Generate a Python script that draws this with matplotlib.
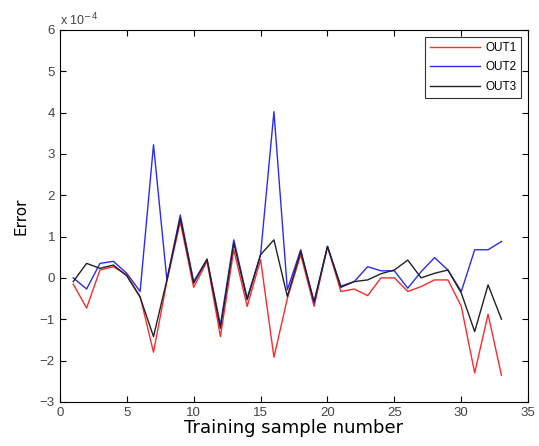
import matplotlib
matplotlib.use('agg')
import matplotlib.pyplot as plt

# error values, in units of 1e-4
samples = list(range(1, 34))
out1 = [-0.15, -0.73, 0.19, 0.27, 0.07, -0.45, -1.8, -0.09, 1.36, -0.23,
        0.40, -1.42, 0.68, -0.69, 0.44, -1.92, -0.50, 0.56, -0.69, 0.76,
        -0.33, -0.27, -0.43, 0.0, 0.0, -0.33, -0.21, -0.05, -0.05, -0.69,
        -2.3, -0.88, -2.36]
out2 = [0.0, -0.27, 0.35, 0.40, 0.11, -0.33, 3.22, -0.05, 1.52, -0.09,
        0.45, -1.14, 0.92, -0.49, 0.56, 4.02, -0.29, 0.68, -0.62, 0.76,
        -0.20, -0.09, 0.27, 0.17, 0.17, -0.25, 0.15, 0.49, 0.19, -0.33,
        0.68, 0.68, 0.88]
out3 = [-0.09, 0.35, 0.23, 0.31, 0.05, -0.47, -1.42, -0.05, 1.44, -0.13,
        0.45, -1.22, 0.84, -0.53, 0.56, 0.92, -0.45, 0.64, -0.57, 0.76,
        -0.23, -0.09, -0.05, 0.10, 0.19, 0.43, 0.0, 0.11, 0.19, -0.37,
        -1.3, -0.17, -1.0]

fig = plt.figure(figsize=(5.39, 4.46), dpi=100)
ax = fig.add_axes([0.111, 0.099, 0.869, 0.834])

ax.plot(samples, out1, color='#ff2a2a', lw=1.0, label='OUT1')
ax.plot(samples, out2, color='#2a2aff', lw=1.0, label='OUT2')
ax.plot(samples, out3, color='#222222', lw=1.0, label='OUT3')

ax.set_xlim(0, 35)
ax.set_ylim(-3, 6)
ax.set_xticks(range(0, 36, 5))
ax.set_yticks(range(-3, 7))
ax.tick_params(direction='in', top=True, right=True, labelsize=9.5,
               labelcolor='#444444', length=4)
for lbl in ax.get_xticklabels() + ax.get_yticklabels():
    lbl.set_family('Liberation Sans')
for s in ax.spines.values():
    s.set_linewidth(0.8)

ax.text(0.0, 1.005, r'x 10$^{-4}$', transform=ax.transAxes, fontsize=9,
        color='#444444', ha='left', va='bottom', family='Liberation Sans')
ax.set_xlabel('Training sample number', fontsize=13, labelpad=0)
ax.set_ylabel('Error', fontsize=11, labelpad=8)

leg = ax.legend(loc='upper right', fontsize=8.5, handlelength=4.3,
                fancybox=False, edgecolor='#333333', framealpha=1,
                borderaxespad=0.6, labelspacing=0.65, handletextpad=0.4,
                prop={'family': 'Liberation Sans', 'size': 8.5})
leg.get_frame().set_linewidth(0.8)

fig.savefig('out.png', dpi=100)
